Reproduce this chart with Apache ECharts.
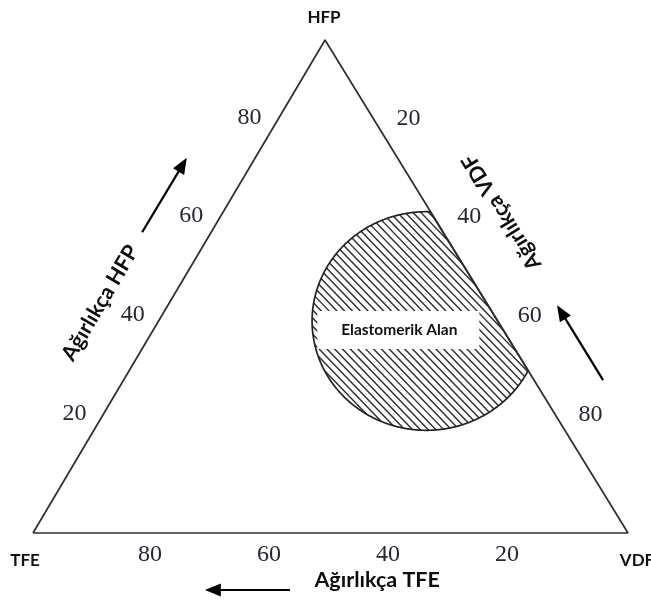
<!DOCTYPE html>
<html><head><meta charset="utf-8">
<script src="https://cdn.jsdelivr.net/npm/echarts@6/dist/echarts.min.js"></script>
<style>html,body{margin:0;padding:0;background:#fff}#c{width:651px;height:601px}</style>
</head><body><div id="c"></div>
<script>
// Ternary composition order everywhere: [TFE, HFP, VDF] (weight %)
const vertexNames = ['TFE', 'HFP', 'VDF'];
const tickValues = [20, 40, 60, 80];
const axisTitles = ['Ağırlıkça TFE', 'Ağırlıkça HFP', 'Ağırlıkça VDF'];
const regionName = 'Elastomerik Alan';
const regionCenter = [12, 43, 45];
const regionRadius = 19.2;

// ---- layout / style ----
const APEX = 0.4908;            // horizontal position of the apex along the base
const SIN60 = Math.sqrt(3) / 2;
const NUM_FONT = '24px "Liberation Serif", "DejaVu Serif", serif';
const BOLD = '"Lato", "Open Sans", sans-serif';
function toXY(c) { return [c[2] + c[1] * APEX, c[1]]; }
function edgePoint(axis, v) {
  if (axis === 0) return [v, 0, 100 - v];
  if (axis === 1) return [100 - v, v, 0];
  return [0, 100 - v, v];
}
const tickOffsets = [[-2, 22], [-17, -21], [23, -20]];
const vertexOffsets = [[-8, 28], [-1, -22], [9, 28]];
const titleAnchors = [[47, -9.5, 62.5], [64.95, 46.65, -11.6], [-11.9, 65.1, 46.8]];
const titleRot = [0, Math.atan2(493, 292), Math.PI - Math.atan2(493, 303)];
const arrows = [
  [[62.7, -11.56, 48.86], [77, -11.56, 34.56]],
  [[50.6, 61, -11.6], [35.4, 76.1, -11.5]],
  [[-11.6, 31, 80.6], [-11.6, 46.2, 65.4]]
];

const triangle = [[100, 0, 0], [0, 100, 0], [0, 0, 100], [100, 0, 0]].map(toXY);

function text(x, y, str, font, fill, rot) {
  return { type: 'text', x: x, y: y, rotation: rot || 0,
    style: { text: str, font: font, fill: fill, align: 'center', verticalAlign: 'middle',
             textAlign: 'center', textVerticalAlign: 'middle' } };
}

function renderRegion(params, api) {
  const c = api.coord(toXY(regionCenter));
  const rx = api.size([regionRadius, 0])[0];
  const ry = api.size([0, regionRadius / SIN60])[1];
  const A = api.coord(toXY([0, 100, 0]));
  const B = api.coord(toXY([0, 0, 100]));
  const ex = B[0] - A[0], ey = B[1] - A[1];
  const side = p => ex * (p[1] - A[1]) - ey * (p[0] - A[0]);
  const sc = Math.sign(side(c));
  const inside = p => sc * side(p) > 0;
  const N = 1440, ring = [];
  for (let k = 0; k < N; k++) {
    const a = 2 * Math.PI * k / N;
    ring.push([c[0] + rx * Math.cos(a), c[1] + ry * Math.sin(a)]);
  }
  let k0 = 0;
  for (let k = 0; k < N; k++) { if (!inside(ring[k]) && inside(ring[(k + 1) % N])) { k0 = k + 1; break; } }
  const poly = [];
  for (let j = 0; j < N; j++) { const p = ring[(k0 + j) % N]; if (inside(p)) poly.push(p); else break; }
  const children = [];
  const ang = 46 * Math.PI / 180, dx = Math.cos(ang), dy = Math.sin(ang);
  const nx = -dy, ny = dx, step = 5.6;
  const R = Math.max(rx, ry) + 2;
  for (let s = -R; s <= R; s += step) {
    const bx = c[0] + s * nx, by = c[1] + s * ny;
    const ox = bx - c[0], oy = by - c[1];
    const qa = dx * dx / (rx * rx) + dy * dy / (ry * ry);
    const qb = 2 * (ox * dx / (rx * rx) + oy * dy / (ry * ry));
    const qc = ox * ox / (rx * rx) + oy * oy / (ry * ry) - 1;
    const disc = qb * qb - 4 * qa * qc;
    if (disc <= 0) continue;
    let t1 = (-qb - Math.sqrt(disc)) / (2 * qa), t2 = (-qb + Math.sqrt(disc)) / (2 * qa);
    const f0 = sc * side([bx, by]), f1 = sc * (ex * dy - ey * dx);
    if (Math.abs(f1) < 1e-9) { if (f0 <= 0) continue; }
    else if (f1 > 0) t1 = Math.max(t1, -f0 / f1);
    else t2 = Math.min(t2, -f0 / f1);
    if (t2 <= t1) continue;
    children.push({ type: 'line', shape: { x1: bx + t1 * dx, y1: by + t1 * dy, x2: bx + t2 * dx, y2: by + t2 * dy },
      style: { stroke: '#2a2a2a', lineWidth: 1.4 } });
  }
  children.push({ type: 'polygon', shape: { points: poly }, style: { fill: null, stroke: '#222', lineWidth: 1.7 } });
  children.push({ type: 'rect', shape: { x: c[0] - 109, y: c[1] - 10, width: 162, height: 38 }, style: { fill: '#fff' } });
  children.push(text(c[0] - 27, c[1] + 9, regionName, 'bold 15.5px ' + BOLD, '#111'));
  return { type: 'group', children: children };
}

function renderTicks(params, api) {
  const axis = api.value(0), v = api.value(1);
  const p = api.coord(toXY(edgePoint(axis, v)));
  const o = tickOffsets[axis];
  return text(p[0] + o[0], p[1] + o[1], String(v), NUM_FONT, '#262630');
}

function renderVertices(params, api) {
  const i = params.dataIndex;
  const vtx = [0, 0, 0]; vtx[i] = 100;
  const p = api.coord(toXY(vtx));
  const o = vertexOffsets[i];
  return text(p[0] + o[0], p[1] + o[1], vertexNames[i], 'bold 17px ' + BOLD, '#111');
}

function renderTitles(params, api) {
  const i = params.dataIndex;
  const p = api.coord(toXY(titleAnchors[i]));
  const a0 = api.coord(toXY(arrows[i][0])), a1 = api.coord(toXY(arrows[i][1]));
  const ux = a1[0] - a0[0], uy = a1[1] - a0[1], L = Math.hypot(ux, uy);
  const ex = ux / L, ey = uy / L, hl = 16, hw = 6.5;
  const bx = a1[0] - ex * hl, by = a1[1] - ey * hl;
  return { type: 'group', children: [
    text(p[0], p[1], axisTitles[i], 'bold 21.5px ' + BOLD, '#0d0d0d', titleRot[i]),
    { type: 'line', shape: { x1: a0[0], y1: a0[1], x2: bx + ex * 2, y2: by + ey * 2 }, style: { stroke: '#000', lineWidth: 2.2 } },
    { type: 'polygon', shape: { points: [[a1[0], a1[1]], [bx - ey * hw, by + ex * hw], [bx + ey * hw, by - ex * hw]] }, style: { fill: '#000' } }
  ] };
}

const tickData = [];
for (let a = 0; a < 3; a++) tickValues.forEach(v => tickData.push([a, v]));

const chart = echarts.init(document.getElementById('c'), null, { renderer: 'canvas' });
chart.setOption({
  animation: false,
  backgroundColor: '#fff',
  grid: { left: 33, right: 23, top: 40, bottom: 68 },
  xAxis: { type: 'value', min: 0, max: 100, show: false },
  yAxis: { type: 'value', min: 0, max: 100, show: false },
  series: [
    { type: 'line', data: triangle, symbol: 'none', clip: false, lineStyle: { color: '#2e2e2e', width: 1.7 } },
    { type: 'custom', data: [toXY(regionCenter)], renderItem: renderRegion, clip: false },
    { type: 'custom', data: tickData, renderItem: renderTicks, clip: false },
    { type: 'custom', data: vertexNames.map((n, i) => [i, 0]), renderItem: renderVertices, clip: false },
    { type: 'custom', data: axisTitles.map((n, i) => [i, 0]), renderItem: renderTitles, clip: false }
  ]
});
</script></body></html>
